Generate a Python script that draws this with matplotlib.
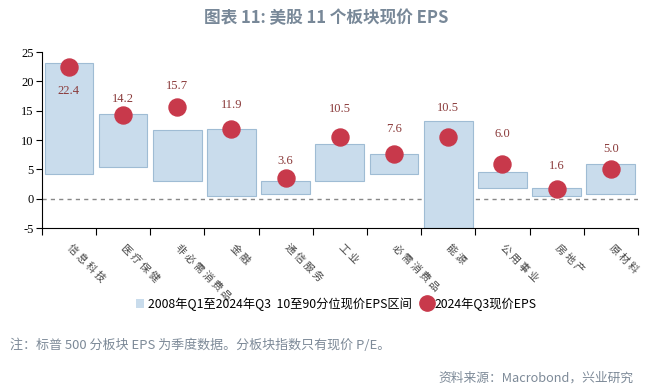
import matplotlib.pyplot as plt
from matplotlib.patches import Patch
from matplotlib.lines import Line2D

plt.rcParams['font.family'] = ['Noto Sans CJK SC', 'DejaVu Sans']

sectors = ["信息科技", "医疗保健", "非必需消费品", "金融", "通信服务", "工业",
           "必需消费品", "能源", "公用事业", "房地产", "原材料"]
range_low = [4.2, 5.4, 3.1, 0.5, 0.9, 3.0, 4.2, -5.0, 1.8, 0.4, 0.9]
range_high = [23.1, 14.4, 11.8, 11.9, 3.1, 9.3, 7.6, 13.2, 4.5, 1.9, 5.9]
eps_now = [22.4, 14.2, 15.7, 11.9, 3.6, 10.5, 7.6, 10.5, 6.0, 1.6, 5.0]
# label offset in points relative to the dot
label_offsets = [-17, 12, 15, 17, 12, 20, 18, 21, 21, 17, 15]

bar_color = "#c9dcec"
bar_edge = "#9fbcd4"
dot_color = "#c8394b"
label_color = "#8a3a3a"
gray = "#7d8a98"

fig = plt.figure(figsize=(6.53, 3.92), dpi=100)
ax = fig.add_axes([0.064, 0.418, 0.913, 0.449])

x = list(range(len(sectors)))
heights = [h - l for h, l in zip(range_high, range_low)]
ax.bar(x, heights, bottom=range_low, width=0.9, color=bar_color,
       edgecolor=bar_edge, linewidth=0.8, zorder=2)
ax.scatter(x, eps_now, s=150, color=dot_color, zorder=3)
for xi, v, off in zip(x, eps_now, label_offsets):
    ax.annotate(f"{v:.1f}", (xi, v), xytext=(0, off), textcoords="offset points",
                ha="center", va="center", fontsize=9, color=label_color,
                family="Liberation Serif")

ax.axhline(0, color="#888888", linestyle=(0, (3, 3)), linewidth=1, zorder=1)

ax.set_xlim(-0.5, len(sectors) - 0.5)
ax.set_ylim(-5, 25)
ax.set_yticks([-5, 0, 5, 10, 15, 20, 25])
ax.set_yticklabels(["-5", "0", "5", "10", "15", "20", "25"], family="Liberation Serif", fontsize=9)

ax.set_xticks([i - 0.5 for i in range(len(sectors) + 1)])
ax.set_xticklabels([])
ax.set_xticks(x, minor=True)
ax.set_xticklabels([" ".join(s) for s in sectors], minor=True, rotation=-45,
                   ha="left", va="center", rotation_mode="anchor", fontsize=7.5,
                   color="#444444")
ax.tick_params(axis="x", which="minor", length=0, pad=13)
ax.tick_params(axis="x", which="major", length=5, direction="out")
ax.tick_params(axis="y", length=4, pad=2)

for s in ["top", "right"]:
    ax.spines[s].set_visible(False)

handles = [Patch(facecolor=bar_color, edgecolor="none"),
           Line2D([], [], marker="o", linestyle="none", markersize=11, color=dot_color)]
fig.legend(handles, ["2008年Q1至2024年Q3  10至90分位现价EPS区间", "2024年Q3现价EPS"],
           loc="center", bbox_to_anchor=(0.515, 0.225), ncol=2, frameon=False,
           fontsize=8.8, handlelength=0.7, handletextpad=0.3, columnspacing=0.9)

fig.text(0.5, 0.955, "图表 11: 美股 11 个板块现价 EPS", ha="center", va="center",
         fontsize=12, fontweight="bold", color="#788898")
fig.text(0.015, 0.12, "注：标普 500 分板块 EPS 为季度数据。分板块指数只有现价 P/E。",
         fontsize=9.4, color=gray, va="center")
fig.text(0.97, 0.036, "资料来源：Macrobond，兴业研究", fontsize=9.2, color=gray,
         ha="right", va="center")

fig.savefig("out.png", dpi=100)
